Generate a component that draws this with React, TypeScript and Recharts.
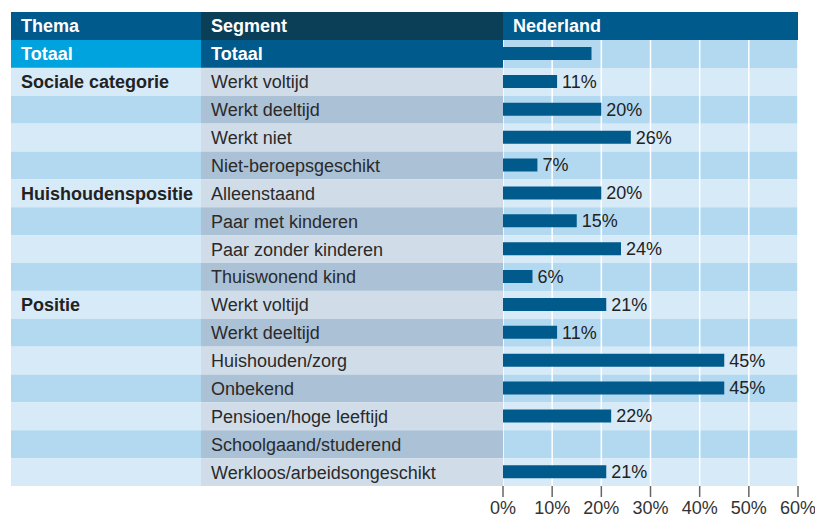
import React from "react";
import { BarChart, Bar, XAxis, YAxis, CartesianGrid, ReferenceArea, LabelList } from "recharts";

const themas = ["Totaal", "Sociale categorie", "", "", "", "Huishoudenspositie", "", "", "", "Positie", "", "", "", "", "", ""];
const segmenten = [
    "Totaal",
    "Werkt voltijd",
    "Werkt deeltijd",
    "Werkt niet",
    "Niet-beroepsgeschikt",
    "Alleenstaand",
    "Paar met kinderen",
    "Paar zonder kinderen",
    "Thuiswonend kind",
    "Werkt voltijd",
    "Werkt deeltijd",
    "Huishouden/zorg",
    "Onbekend",
    "Pensioen/hoge leeftijd",
    "Schoolgaand/studerend",
    "Werkloos/arbeidsongeschikt",
];
const waarden: (number | null)[] = [18, 11, 20, 26, 7, 20, 15, 24, 6, 21, 11, 45, 45, 22, null, 21];
const xTicks = [0, 10, 20, 30, 40, 50, 60];

const rows = segmenten.map((segment, i) => ({ id: String(i), thema: themas[i], segment, waarde: waarden[i] }));

const W = 815;
const H = 520;
const TOP = 40;
const LEFT = 11;
const COL2 = 201;
const PLOT_X = 503;
const PLOT_R = 798;
const BOTTOM = 486;
const ROW_H = (BOTTOM - TOP) / rows.length;

const FONT = "'Liberation Sans', Arial, sans-serif";
const DARK = "#005a8c";

function TableTick(props: any) {
    const { y, payload } = props;
    const i = Number(payload.value);
    const row = rows[i];
    const even = i % 2 === 0;
    const themaFill = i === 0 ? "#00a3de" : even ? "#b3d9f1" : "#d7eaf8";
    const segFill = i === 0 ? DARK : even ? "#abc1d6" : "#d0dde9";
    const textColor = i === 0 ? "#fff" : "#222";
    return (
        <g>
            <rect x={LEFT} y={y - ROW_H / 2} width={COL2 - LEFT} height={ROW_H} fill={themaFill} />
            <rect x={COL2} y={y - ROW_H / 2} width={PLOT_X - COL2} height={ROW_H} fill={segFill} />
            <text x={LEFT + 10} y={y} dy="0.36em" fontSize={18} fontWeight="bold" fill={textColor}>
                {row.thema}
            </text>
            <text x={COL2 + 10} y={y} dy="0.36em" fontSize={18} fontWeight={i === 0 ? "bold" : "normal"} fill={i === 0 ? "#fff" : "#2a2a2a"}>
                {row.segment}
            </text>
        </g>
    );
}

function ValueLabel(props: any) {
    const { x, y, width, height, value, index } = props;
    if (index === 0 || value == null) return null;
    return (
        <text x={x + width + 5} y={y + height / 2} dy="0.36em" fontSize={18} fill="#222">
            {value}%
        </text>
    );
}

const headerCell: React.CSSProperties = {
    position: "absolute",
    top: 12,
    height: TOP - 12,
    lineHeight: `${TOP - 12}px`,
    color: "#fff",
    fontWeight: "bold",
    fontSize: 18,
    paddingLeft: 10,
    boxSizing: "border-box",
};

export default function App() {
    return (
        <div style={{ position: "absolute", left: 0, top: 0, width: W, height: H, background: "#fff", fontFamily: FONT }}>
            <div style={{ ...headerCell, left: LEFT, width: COL2 - LEFT, background: DARK }}>Thema</div>
            <div style={{ ...headerCell, left: COL2, width: PLOT_X - COL2, background: "#0b3f58" }}>Segment</div>
            <div style={{ ...headerCell, left: PLOT_X, width: PLOT_R - PLOT_X, background: DARK }}>Nederland</div>
            <BarChart
                width={W}
                height={H}
                data={rows}
                layout="vertical"
                margin={{ top: TOP, right: W - PLOT_R, bottom: 0, left: LEFT }}
                style={{ fontFamily: FONT }}
            >
                {rows.map((r, i) => (
                    <ReferenceArea
                        key={r.id}
                        yAxisId="rows"
                        x1={0}
                        x2={60}
                        y1={r.id}
                        y2={r.id}
                        fill={i % 2 === 0 ? "#b3d9f1" : "#d7eaf8"}
                        fillOpacity={1}
                        stroke="none"
                        zIndex={-200}
                    />
                ))}
                <CartesianGrid horizontal={false} stroke="#ffffff" strokeWidth={1.5} yAxisId="rows" />
                <XAxis
                    type="number"
                    domain={[0, 60]}
                    ticks={xTicks}
                    tickFormatter={(v) => `${v}%`}
                    axisLine={false}
                    tickLine={{ stroke: "#666", strokeWidth: 1.5 }}
                    tickSize={11}
                    tickMargin={4}
                    height={H - BOTTOM}
                    tick={{ fill: "#333", fontSize: 18 }}
                    interval={0}
                />
                <YAxis
                    yAxisId="rows"
                    type="category"
                    dataKey="id"
                    width={PLOT_X - LEFT}
                    axisLine={false}
                    tickLine={false}
                    interval={0}
                    tick={<TableTick />}
                />
                <Bar yAxisId="rows" dataKey="waarde" fill={DARK} barSize={13} isAnimationActive={false}>
                    <LabelList dataKey="waarde" content={<ValueLabel />} />
                </Bar>
            </BarChart>
        </div>
    );
}
